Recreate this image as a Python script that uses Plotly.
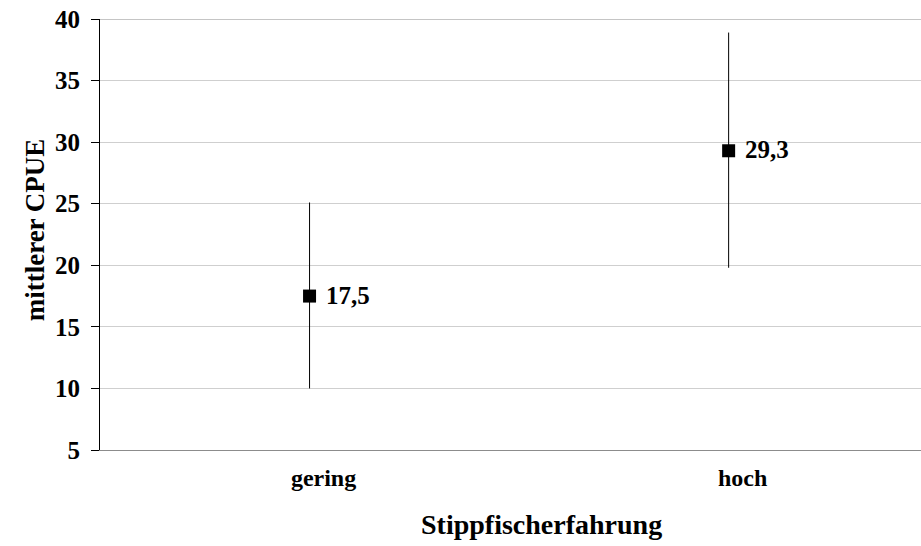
import plotly.graph_objects as go

# Mean CPUE per angling-experience group with error bars
categories = ["gering", "hoch"]
mean_cpue = [17.5, 29.3]
err_plus = [7.6, 9.6]
err_minus = [7.5, 9.5]
y_ticks = [5, 10, 15, 20, 25, 30, 35, 40]

labels = [f"{v:.1f}".replace(".", ",") for v in mean_cpue]
font_family = "Liberation Serif, Times New Roman, serif"

fig = go.Figure(
    go.Scatter(
        x=[0, 1],
        y=mean_cpue,
        mode="markers",
        marker=dict(symbol="square", size=13, color="black"),
        error_y=dict(
            type="data",
            symmetric=False,
            array=err_plus,
            arrayminus=err_minus,
            thickness=1,
            width=0,
            color="black",
        ),
        cliponaxis=False,
        showlegend=False,
    )
)

# Value labels to the right of each mean marker
for i, (v, t) in enumerate(zip(mean_cpue, labels)):
    fig.add_annotation(
        x=i, y=v, text=f"<b>{t}</b>", showarrow=False,
        xanchor="left", yanchor="middle", xshift=14, yshift=1,
        font=dict(family=font_family, size=25, color="black"),
    )

# Axis titles
fig.add_annotation(
    xref="paper", yref="paper", x=0.538, y=-0.172,
    text="<b>Stippfischerfahrung</b>", showarrow=False,
    xanchor="center", yanchor="middle",
    font=dict(family=font_family, size=28, color="black"),
)
fig.add_annotation(
    xref="paper", yref="paper", x=-0.079, y=0.51,
    text="<b>mittlerer CPUE</b>", showarrow=False, textangle=-90,
    xanchor="center", yanchor="middle",
    font=dict(family=font_family, size=27, color="black"),
)

fig.update_layout(
    width=921,
    height=546,
    margin=dict(l=100, r=0, t=19, b=96),
    paper_bgcolor="white",
    plot_bgcolor="white",
    font=dict(family=font_family, color="black"),
    xaxis=dict(
        range=[-0.5, 1.459],
        tickmode="array",
        tickvals=[0, 1],
        ticktext=[f"<b>{c}</b>" for c in categories],
        tickfont=dict(family=font_family, size=24, color="black"),
        ticks="",
        ticklabelstandoff=6,
        ticklabelshift=14,
        showgrid=False,
        zeroline=False,
        showline=True,
        linecolor="#8c8c8c",
        linewidth=1,
    ),
    yaxis=dict(
        range=[5, 40],
        tickmode="array",
        tickvals=y_ticks,
        ticktext=[f"<b>{t}</b>" for t in y_ticks],
        tickfont=dict(family=font_family, size=25, color="black"),
        ticks="outside",
        ticklen=8,
        tickcolor="black",
        ticklabelstandoff=6,
        showgrid=True,
        gridcolor="#cfcfcf",
        gridwidth=1,
        zeroline=False,
        showline=True,
        linecolor="black",
        linewidth=1,
    ),
)

# Top frame line at 40
fig.add_shape(type="line", xref="paper", yref="y", x0=0, x1=1, y0=40, y1=40,
              line=dict(color="#8c8c8c", width=1))

fig.write_html("out.html")
